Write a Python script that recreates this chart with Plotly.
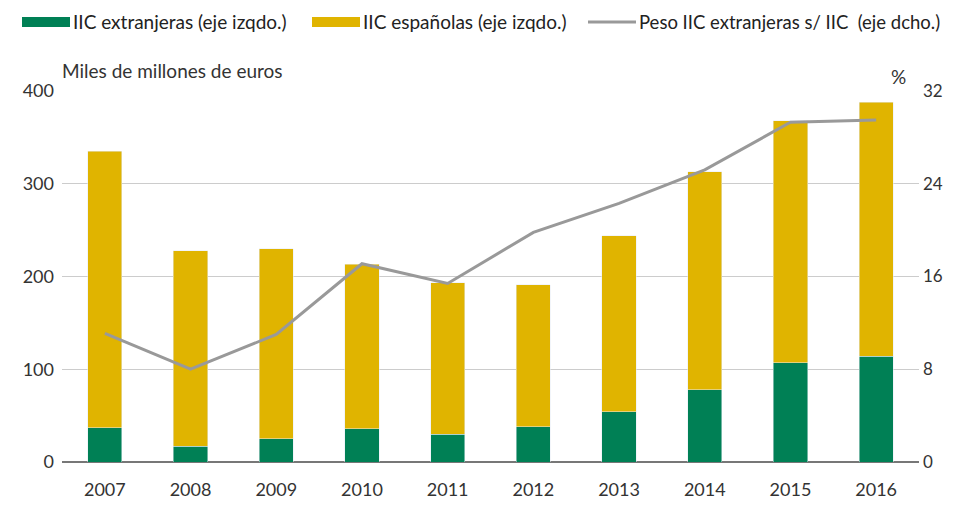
import plotly.graph_objects as go

years = ["2007", "2008", "2009", "2010", "2011", "2012", "2013", "2014", "2015", "2016"]
iic_extranjeras = [37, 17, 25, 36, 30, 38, 54, 78, 107, 114]
iic_espanolas = [298, 211, 205, 177, 163, 153, 190, 235, 261, 274]
peso_extranjeras = [11.1, 8.0, 11.0, 17.1, 15.4, 19.8, 22.3, 25.2, 29.3, 29.5]

FONT = "Lato, Open Sans, sans-serif"
GREEN = "#008055"
YELLOW = "#E0B400"
GREY = "#999999"

# the page body has an 8px margin on every side, so keep the figure inside the window
OFF = 8
W, H = 954 - 2 * OFF, 517 - 2 * OFF
PLOT_RIGHT = 919
L, R, T, B = 62 - OFF, W - (PLOT_RIGHT - OFF), 91 - OFF, H - (462 - OFF)

fig = go.Figure()
fig.add_trace(go.Bar(x=years, y=iic_extranjeras, name="IIC extranjeras (eje izqdo.)",
                     marker_color=GREEN, width=0.4, showlegend=False))
fig.add_trace(go.Bar(x=years, y=iic_espanolas, name="IIC españolas (eje izqdo.)",
                     marker_color=YELLOW, width=0.4, showlegend=False))
fig.add_trace(go.Scatter(x=years, y=peso_extranjeras, name="Peso IIC extranjeras s/ IIC  (eje dcho.)",
                         mode="lines", line=dict(color=GREY, width=3), yaxis="y2", showlegend=False))

# helpers: screen pixel (as in the reference) -> paper coords
pw, ph = W - L - R, H - T - B
def px(x):
    return (x - OFF - L) / pw
def py(y):
    return (H - B - (y - OFF)) / ph

# hand-made legend in the top row (wide symbols, like the original)
legend_items = [
    ("rect", GREEN, 22, "IIC extranjeras (eje izqdo.)", 19),
    ("rect", YELLOW, 312, "IIC españolas (eje izqdo.)", 19),
    ("line", GREY, 588, "Peso IIC extranjeras s/ IIC  (eje dcho.)", 18.5),
]
shapes = []
annotations = []
for kind, col, x0, label, fs in legend_items:
    if kind == "rect":
        shapes.append(dict(type="rect", xref="paper", yref="paper",
                           x0=px(x0), x1=px(x0 + 48), y0=py(27), y1=py(17),
                           fillcolor=col, line=dict(width=0)))
    else:
        shapes.append(dict(type="line", xref="paper", yref="paper",
                           x0=px(x0), x1=px(x0 + 48), y0=py(22), y1=py(22),
                           line=dict(color=col, width=3)))
    annotations.append(dict(text=label, x=px(x0 + 49), xref="paper", xanchor="left",
                            y=py(22), yref="paper", yanchor="middle", showarrow=False,
                            font=dict(size=fs, color="#222222")))

annotations += [
    dict(text="Miles de millones de euros", x=px(60), xref="paper", xanchor="left",
         y=py(70), yref="paper", yanchor="middle", showarrow=False, font=dict(size=19)),
    dict(text="%", x=px(898), xref="paper", xanchor="center",
         y=py(76), yref="paper", yanchor="middle", showarrow=False, font=dict(size=19)),
]

fig.update_layout(
    barmode="stack",
    width=W, height=H,
    margin=dict(l=L, r=R, t=T, b=B),
    paper_bgcolor="white", plot_bgcolor="white",
    font=dict(family=FONT, size=18, color="#333333"),
    showlegend=False,
    xaxis=dict(showgrid=False, ticks="", automargin=False, ticklabelstandoff=15),
    yaxis=dict(range=[0, 400], dtick=100, showgrid=True, gridcolor="#cccccc", gridwidth=1,
               zeroline=True, zerolinecolor="#777777", zerolinewidth=2,
               ticks="", automargin=False, ticklabelstandoff=7),
    yaxis2=dict(range=[0, 32], dtick=8, overlaying="y", side="right", showgrid=False,
                zeroline=False, ticks="", automargin=False, ticklabelstandoff=3,
                tickfont=dict(size=17)),
    shapes=shapes,
    annotations=annotations,
)

fig.write_html("out.html")
